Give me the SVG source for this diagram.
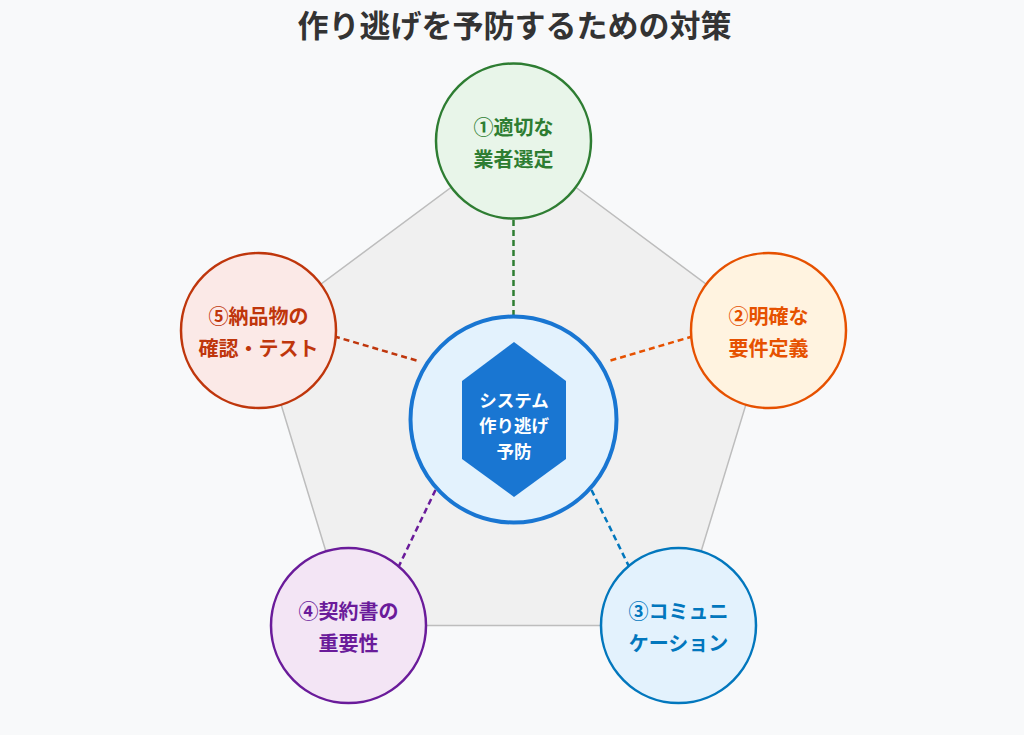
<svg xmlns="http://www.w3.org/2000/svg" width="1024" height="735" viewBox="0 0 1024 735">
<style>
text{font-family:"Noto Sans CJK JP","Noto Sans",sans-serif;font-weight:bold;text-anchor:middle}
.title{font-size:31px;fill:#333333}
.lbl{font-size:20px}
.hex{font-size:17.5px;fill:#ffffff}
.node{stroke-width:2.5}
.dash{stroke-width:2.5;stroke-dasharray:6 4;fill:none}
</style>
<rect width="1024" height="735" fill="#f8f9fa"/>
<text class="title" x="514.5" y="37">作り逃げを予防するための対策</text>
<polygon points="513.5,141 768.5,330.5 678.5,625.5 348.5,625.5 258.5,330.5" fill="#f0f0f0" stroke="#bdbdbd" stroke-width="1.5"/>
<g id="connectors">
<line class="dash" x1="513.5" y1="220" x2="513.5" y2="315" stroke="#2e7d32"/>
<line class="dash" x1="610.5" y1="360.5" x2="694" y2="336" stroke="#e65100"/>
<line class="dash" x1="591.5" y1="490" x2="629.5" y2="567.5" stroke="#0277bd"/>
<line class="dash" x1="435.5" y1="490" x2="398" y2="568" stroke="#6a1b9a"/>
<line class="dash" x1="416.5" y1="360.5" x2="333" y2="336" stroke="#bf360c"/>
</g>
<g id="center">
<circle cx="513.5" cy="419.5" r="103" fill="#e3f2fd" stroke="#1976d2" stroke-width="4"/>
<polygon points="514,342 566,381 566,459 514,497 462,459 462,381" fill="#1976d2"/>
<text class="hex" x="514" y="407">システム</text>
<text class="hex" x="514" y="432">作り逃げ</text>
<text class="hex" x="514" y="457.5">予防</text>
</g>
<g id="node1">
<circle class="node" cx="513.5" cy="141" r="77.5" fill="#e8f5e9" stroke="#2e7d32"/>
<text class="lbl" x="513.5" y="134.5" fill="#2e7d32">①適切な</text>
<text class="lbl" x="513.5" y="166.5" fill="#2e7d32">業者選定</text>
</g>
<g id="node2">
<circle class="node" cx="768.5" cy="330.5" r="77.5" fill="#fff3e0" stroke="#e65100"/>
<text class="lbl" x="768.5" y="324" fill="#e65100">②明確な</text>
<text class="lbl" x="768.5" y="356" fill="#e65100">要件定義</text>
</g>
<g id="node3">
<circle class="node" cx="678.5" cy="625.5" r="77.5" fill="#e3f2fd" stroke="#0277bd"/>
<text class="lbl" x="678.5" y="619" fill="#0277bd">③コミュニ</text>
<text class="lbl" x="678.5" y="651" fill="#0277bd">ケーション</text>
</g>
<g id="node4">
<circle class="node" cx="348.5" cy="625.5" r="77.5" fill="#f3e5f5" stroke="#6a1b9a"/>
<text class="lbl" x="348.5" y="619" fill="#6a1b9a">④契約書の</text>
<text class="lbl" x="348.5" y="651" fill="#6a1b9a">重要性</text>
</g>
<g id="node5">
<circle class="node" cx="258.5" cy="330.5" r="77.5" fill="#fbe9e7" stroke="#bf360c"/>
<text class="lbl" x="258.5" y="324" fill="#bf360c">⑤納品物の</text>
<text class="lbl" x="258.5" y="356" fill="#bf360c">確認・テスト</text>
</g>
</svg>
